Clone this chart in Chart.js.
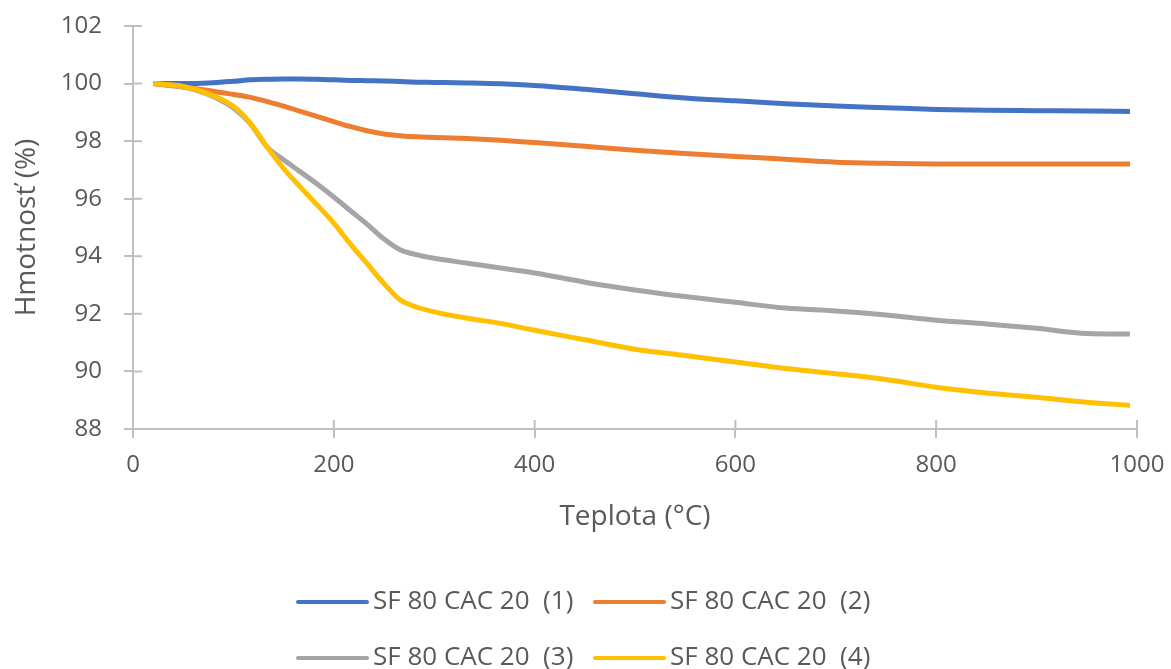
<!DOCTYPE html>
<html>
<head>
<meta charset="utf-8">
<script src="https://cdn.jsdelivr.net/npm/chart.js@4"></script>
<style>
  html, body { margin: 0; padding: 0; background: #fff; }
  #wrap { width: 1171px; height: 669px; }
</style>
</head>
<body>
<div id="wrap"><canvas id="tga"></canvas></div>
<script>
const temps = [20, 50, 75, 100, 117, 133, 150, 166, 183, 200, 216, 233, 250, 266, 283, 300, 333, 366, 400, 450, 500, 550, 600, 650, 700, 750, 800, 850, 900, 950, 993];

const mass1 = [100.0, 100.0, 100.02, 100.08, 100.13, 100.15, 100.16, 100.16, 100.15, 100.13, 100.11, 100.1, 100.09, 100.07, 100.05, 100.04, 100.02, 99.99, 99.93, 99.8, 99.65, 99.5, 99.4, 99.3, 99.22, 99.16, 99.1, 99.07, 99.06, 99.05, 99.03];
const mass2 = [100.0, 99.88, 99.76, 99.62, 99.52, 99.38, 99.22, 99.04, 98.86, 98.68, 98.51, 98.36, 98.25, 98.19, 98.15, 98.13, 98.09, 98.03, 97.95, 97.82, 97.68, 97.57, 97.47, 97.37, 97.27, 97.23, 97.21, 97.21, 97.21, 97.21, 97.21];
const mass3 = [100.0, 99.88, 99.62, 99.15, 98.6, 97.82, 97.35, 96.95, 96.52, 96.06, 95.6, 95.12, 94.6, 94.23, 94.05, 93.93, 93.76, 93.59, 93.42, 93.1, 92.83, 92.6, 92.4, 92.2, 92.1, 91.96, 91.78, 91.65, 91.5, 91.32, 91.3];
const mass4 = [100.0, 99.9, 99.65, 99.21, 98.62, 97.82, 97.05, 96.43, 95.8, 95.15, 94.45, 93.75, 93.05, 92.49, 92.23, 92.07, 91.85, 91.67, 91.43, 91.1, 90.77, 90.55, 90.33, 90.1, 89.92, 89.72, 89.45, 89.25, 89.1, 88.93, 88.82];

const seriesNames = ['SF 80 CAC 20  (1)', 'SF 80 CAC 20  (2)', 'SF 80 CAC 20  (3)', 'SF 80 CAC 20  (4)'];
const seriesColors = ['#4472C4', '#ED7D31', '#A5A5A5', '#FFC000'];

const xTicks = [0, 200, 400, 600, 800, 1000];
const yTicks = [88, 90, 92, 94, 96, 98, 100, 102];

const textColor = '#595959';
const axisColor = '#BFBFBF';
const fontFam = "'Open Sans', 'Noto Sans', sans-serif";

const pts = vals => temps.map((t, i) => ({ x: t, y: vals[i] }));

// Excel style tick marks crossing the axis: draw the inner half
const crossTicks = {
    id: 'crossTicks',
    afterDraw(chart) {
        const { ctx, scales: { x, y }, chartArea } = chart
        ctx.save()
        ctx.strokeStyle = axisColor
        ctx.lineWidth = 2
        ctx.beginPath()
        xTicks.forEach(v => {
            const px = x.getPixelForValue(v)
            ctx.moveTo(px, chartArea.bottom)
            ctx.lineTo(px, chartArea.bottom - 9)
        })
        yTicks.forEach(v => {
            const py = y.getPixelForValue(v)
            ctx.moveTo(chartArea.left, py)
            ctx.lineTo(chartArea.left + 9, py)
        })
        ctx.stroke()
        ctx.restore()
    }
}

// legend in two rows of two, as in the original
const gridLegend = {
    id: 'gridLegend',
    afterDraw(chart) {
        const { ctx } = chart
        const colX = [298, 595]
        const rowY = [602, 658]
        ctx.save()
        ctx.font = '26px ' + fontFam
        ctx.textBaseline = 'middle'
        ctx.textAlign = 'left'
        chart.data.datasets.forEach((ds, i) => {
            const lx = colX[i % 2], ly = rowY[Math.floor(i / 2)]
            ctx.strokeStyle = ds.borderColor
            ctx.lineWidth = 4
            ctx.lineCap = 'round'
            ctx.beginPath()
            ctx.moveTo(lx, ly)
            ctx.lineTo(lx + 69, ly)
            ctx.stroke()
            ctx.fillStyle = textColor
            ctx.fillText(ds.label, lx + 75, ly)
        })
        ctx.restore()
    }
}

const datasets = [mass1, mass2, mass3, mass4].map((vals, i) => ({
    label: seriesNames[i],
    data: pts(vals),
    borderColor: seriesColors[i],
    backgroundColor: seriesColors[i],
    borderWidth: 5,
    pointRadius: 0,
    cubicInterpolationMode: 'monotone',
    order: 4 - i,
}));

new Chart(document.getElementById('tga'), {
    type: 'line',
    data: { datasets },
    options: {
        responsive: true,
        maintainAspectRatio: false,
        animation: false,
        layout: { padding: { left: 10, right: 34, top: 26, bottom: 135 } },
        plugins: {
            legend: { display: false },
            tooltip: { enabled: false },
        },
        scales: {
            x: {
                type: 'linear',
                min: 0,
                max: 1000,
                afterFit: s => { s.height = 105; s.paddingLeft = 0; s.paddingRight = 0 },
                afterBuildTicks: s => { s.ticks = xTicks.map(v => ({ value: v })) },
                ticks: { color: textColor, font: { family: fontFam, size: 24 }, padding: 13, maxRotation: 0, callback: v => String(v) },
                grid: { drawOnChartArea: false, color: axisColor, lineWidth: 2, tickLength: 9 },
                border: { color: axisColor, width: 2 },
                title: { display: true, text: 'Teplota (°C)', color: textColor, font: { family: fontFam, size: 28 }, padding: 0 },
            },
            y: {
                min: 88,
                max: 102,
                afterFit: s => { s.width = 123; s.paddingTop = 0; s.paddingBottom = 0 },
                afterBuildTicks: s => { s.ticks = yTicks.map(v => ({ value: v })) },
                ticks: { color: textColor, font: { family: fontFam, size: 24 }, padding: 22, callback: v => String(v) },
                grid: { drawOnChartArea: false, color: axisColor, lineWidth: 2, tickLength: 9 },
                border: { color: axisColor, width: 2 },
                title: { display: true, text: 'Hmotnosť (%)', color: textColor, font: { family: fontFam, size: 28 }, padding: 0 },
            },
        },
    },
    plugins: [crossTicks, gridLegend],
});
</script>
</body>
</html>
